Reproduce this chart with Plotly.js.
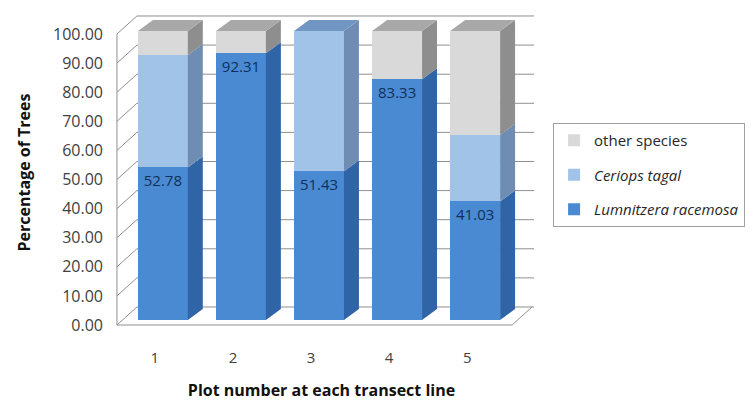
<!DOCTYPE html>
<html><head><meta charset="utf-8">
<script src="https://cdn.plot.ly/plotly-3.0.1.min.js"></script>
<style>html,body{margin:0;padding:0;background:#fff}#chart{width:754px;height:401px}</style>
</head><body><div id="chart"></div>
<script>
// ---- data ----
const plots = [1, 2, 3, 4, 5];
const plotLabels = ['1', '2', '3', '4', '5'];
const lumnitzera = [52.78, 92.31, 51.43, 83.33, 41.03];
const ceriops = [38.89, 0, 48.57, 0, 23.08];
const otherSpecies = [8.33, 7.69, 0, 16.67, 35.90];
const yTicks = [0, 10, 20, 30, 40, 50, 60, 70, 80, 90, 100];

// ---- style ----
const series = [
  {name: '<i>Lumnitzera racemosa</i>', vals: lumnitzera, front: '#4a8ad2', side: '#2f64a6', top: '#3a74b8', label: true, rank: 3},
  {name: '<i>Ceriops tagal</i>', vals: ceriops, front: '#a2c3e8', side: '#6f8db2', top: '#7196c4', label: false, rank: 2},
  {name: 'other species', vals: otherSpecies, front: '#d9d9d9', side: '#8e8e8e', top: '#a8a8a8', label: false, rank: 1}
];
const barOffset = -0.217, barWidth = 0.639;
const depthX = 0.1917, depthY = 3.806;     // bar depth (x units, y2 units)
const wallDX = 0.2556, wallDY = 6.19;      // wall depth (x units, y units)
const wallLeft = 0.5144, floorRight = 5.575;

const traces = [];
series.forEach((s, k) => {
  traces.push({
    type: 'bar', x: plots, y: s.vals, name: s.name, yaxis: 'y2',
    offset: barOffset, width: barWidth, legendgroup: 'g' + k, legendrank: s.rank,
    marker: {color: s.front, line: {width: 0}},
    text: s.label ? s.vals.map(v => v.toFixed(2)) : null,
    textposition: s.label ? 'inside' : 'none',
    insidetextanchor: 'end', textangle: 0, constraintext: 'none',
    textfont: {color: '#10305a', size: 15},
    hoverinfo: 'name+y'
  });
});

// side and top faces built from the stacked values
plots.forEach((p, i) => {
  let base = 0, topSeries = null;
  const xr = p + barOffset + barWidth, xl = p + barOffset;
  series.forEach(s => {
    const v = s.vals[i];
    if (v <= 0) return;
    const t = base + v;
    traces.push({
      type: 'scatter', mode: 'lines', yaxis: 'y2', fill: 'toself',
      x: [xr, xr + depthX, xr + depthX, xr, xr],
      y: [base, base + depthY, t + depthY, t, base],
      fillcolor: s.side, line: {width: 0}, showlegend: false, hoverinfo: 'skip'
    });
    base = t; topSeries = s;
  });
  traces.push({
    type: 'scatter', mode: 'lines', yaxis: 'y2', fill: 'toself',
    x: [xl, xl + depthX, xr + depthX, xr, xl],
    y: [base, base + depthY, base + depthY, base, base],
    fillcolor: topSeries.top, line: {width: 0}, showlegend: false, hoverinfo: 'skip'
  });
});

// walls & gridlines
const gridColor = '#8f8f8f';
const shapes = [];
const ln = (x0, y0, x1, y1) => shapes.push({type: 'line', xref: 'x', yref: 'y', x0, y0, x1, y1, layer: 'below', line: {color: gridColor, width: 1}});
yTicks.forEach(v => {
  ln(wallLeft, v, wallLeft + wallDX, v + wallDY);
  ln(wallLeft + wallDX, v + wallDY, 5.856, v + wallDY);
});
ln(wallLeft, 0, wallLeft, 100);
ln(wallLeft, 0, floorRight, 0);
ln(floorRight, 0, floorRight + wallDX, wallDY);

const layout = {
  width: 754, height: 401,
  margin: {l: 104, r: 214, t: 10, b: 66},
  paper_bgcolor: '#ffffff', plot_bgcolor: 'rgba(0,0,0,0)',
  barmode: 'stack',
  font: {family: 'Open Sans, sans-serif', size: 15, color: '#404040'},
  xaxis: {
    range: [0.3482, 5.9201], tickvals: plots, ticktext: plotLabels,
    showgrid: false, zeroline: false, showline: false, ticks: '', ticklabelstandoff: 12,
    tickfont: {size: 15, color: '#404040'},
    title: {text: '<b>Plot number at each transect line</b>', font: {size: 16, color: '#111111'}, standoff: 23}
  },
  yaxis: {
    range: [-3.436, 108.247], tickvals: yTicks, tickformat: '.2f',
    showgrid: false, zeroline: false, showline: false, ticks: '',
    tickfont: {size: 16, color: '#404040'},
    title: {text: '<b>Percentage of Trees</b>', font: {size: 16, color: '#111111'}, standoff: 18}
  },
  yaxis2: {overlaying: 'y', range: [-5.19, 107.266], visible: false},
  showlegend: true,
  legend: {
    x: 1.030, y: 0.6523, xanchor: 'left', yanchor: 'top',
    bordercolor: '#a0a0a0', borderwidth: 1, bgcolor: '#ffffff',
    traceorder: 'grouped', tracegroupgap: 12,
    font: {size: 15, color: '#262626'}
  },
  shapes: shapes
};

Plotly.newPlot('chart', traces, layout, {displayModeBar: false, staticPlot: true});
</script>
</body></html>
